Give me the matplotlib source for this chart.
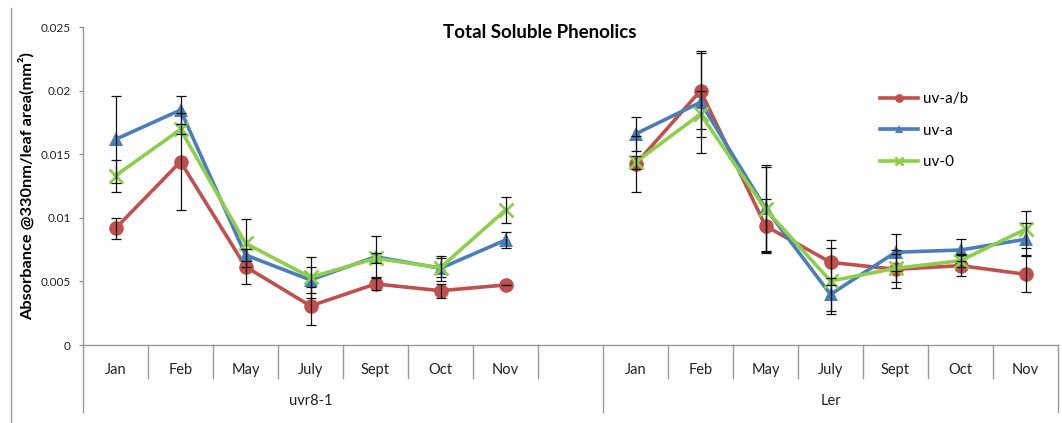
import numpy as np
import matplotlib
matplotlib.use("Agg")
import matplotlib.pyplot as plt
import matplotlib.transforms as mtransforms

plt.rcParams['font.family'] = ['Lato', 'DejaVu Sans']

# categories: 7 months per line, one empty slot between the two groups
months = ["Jan", "Feb", "May", "July", "Sept", "Oct", "Nov"]
groups = ["uvr8-1", "Ler"]
categories = months + [""] + months

nan = np.nan
uv_ab = [0.00917, 0.01441, 0.00616, 0.00307, 0.00480, 0.00427, 0.00472, nan,
         0.01420, 0.01999, 0.00936, 0.00650, 0.00595, 0.00624, 0.00556]
uv_a = [0.01617, 0.01847, 0.00708, 0.00511, 0.00694, 0.00603, 0.00825, nan,
        0.01659, 0.01908, 0.01074, 0.00398, 0.00729, 0.00747, 0.00831]
uv_0 = [0.01331, 0.01695, 0.00800, 0.00532, 0.00681, 0.00608, 0.01061, nan,
        0.01436, 0.01816, 0.01067, 0.00503, 0.00603, 0.00663, 0.00910]

err_ab = [0.00085, 0.0038, 0.00136, 0.0015, 0.0005, 0.00055, 0.0, nan,
          0.0022, 0.0030, 0.0021, 0.00175, 0.0015, 0.0008, 0.0014]
err_a = [0.0034, 0.0011, 0.0005, 0.0010, 0.0016, 0.00097, 0.00065, nan,
         0.00136, 0.0040, 0.0034, 0.0013, 0.00144, 0.00087, 0.00126]
err_0 = [0.00126, 0.0004, 0.0019, 0.0016, 0.0004, 0.00074, 0.0010, nan,
         0.0005, 0.0018, 0.0033, 0.0026, 0.0011, 0.0005, 0.00144]

yticks = [0, 0.005, 0.01, 0.015, 0.02, 0.025]
ytick_labels = ["0", "0.005", "0.01", "0.015", "0.02", "0.025"]

W, H = 1062, 423
fig = plt.figure(figsize=(W / 100, H / 100), dpi=100)
fig.patch.set_facecolor("white")
ax = fig.add_axes([83 / W, (H - 345) / H, 975 / W, 318 / H])

x = np.arange(len(categories))
series = [
    (uv_ab, err_ab, "uv-a/b", "#C0504D", "o", 10.5),
    (uv_a, err_a, "uv-a", "#4A7EBB", "^", 10.5),
    (uv_0, err_0, "uv-0", "#8DCF4A", "x", 9.5),
]
handles = []
for vals, errs, name, col, mk, ms in series:
    h, = ax.plot(x, vals, color=col, lw=2.6, marker=mk, ms=ms,
                 mew=2 if mk == "x" else 0, mfc=col, mec=col, label=name, zorder=3)
    handles.append(h)
for vals, errs, name, col, mk, ms in series:
    ax.errorbar(x, vals, yerr=errs, fmt="none", ecolor="#111111",
                elinewidth=0.9, capsize=3.5, capthick=0.9, zorder=4)

ax.set_xlim(-0.5, len(categories) - 0.5)
ax.set_ylim(0, 0.025)
ax.set_yticks(yticks)
ax.set_yticklabels(ytick_labels, fontsize=8.5, color="#222222")
ax.tick_params(axis="y", direction="out", length=3, color="#888888", pad=6)
ax.set_xticks(x)
ax.set_xticklabels(categories, fontsize=10.5, color="#222222")
ax.tick_params(axis="x", length=0, pad=13)

for s in ["top", "right"]:
    ax.spines[s].set_visible(False)
for s in ["left", "bottom"]:
    ax.spines[s].set_color("#999999")
    ax.spines[s].set_linewidth(1)

# category separators below the axis
trans = mtransforms.blended_transform_factory(ax.transData, ax.transAxes)
short = -33 / 318
long_ = -67 / 318
for i in range(len(categories) + 1):
    b = i - 0.5
    depth = long_ if i in (0, 8, 15) else short
    ax.plot([b, b], [0, depth], transform=trans, color="#999999", lw=1, clip_on=False)

# group labels
ax.text(3, -56 / 318, groups[0], transform=trans, ha="center", va="center",
        fontsize=10.5, color="#222222")
ax.text(11, -56 / 318, groups[1], transform=trans, ha="center", va="center",
        fontsize=10.5, color="#222222")

ax.set_ylabel("Absorbance @330nm/leaf area(mm²)", fontsize=11.8, fontweight="bold")
ax.yaxis.set_label_coords(-48 / 975, 0.5)

fig.text(540 / W, 1 - 33 / H, "Total Soluble Phenolics", ha="center", va="center",
         fontsize=13.5, fontweight="bold")

leg = fig.legend(handles=handles, loc="upper left", bbox_to_anchor=(880 / W, 1 - 92 / H),
                 frameon=False, fontsize=11, handlelength=2.5, handletextpad=0.3,
                 labelspacing=1.15, markerscale=0.6, borderpad=0, borderaxespad=0)

# outer chart border on the left
fig.add_artist(plt.Line2D([11 / W, 11 / W], [0, 1 - 8 / H], color="#999999", lw=1))

fig.savefig("out.png", dpi=100)
